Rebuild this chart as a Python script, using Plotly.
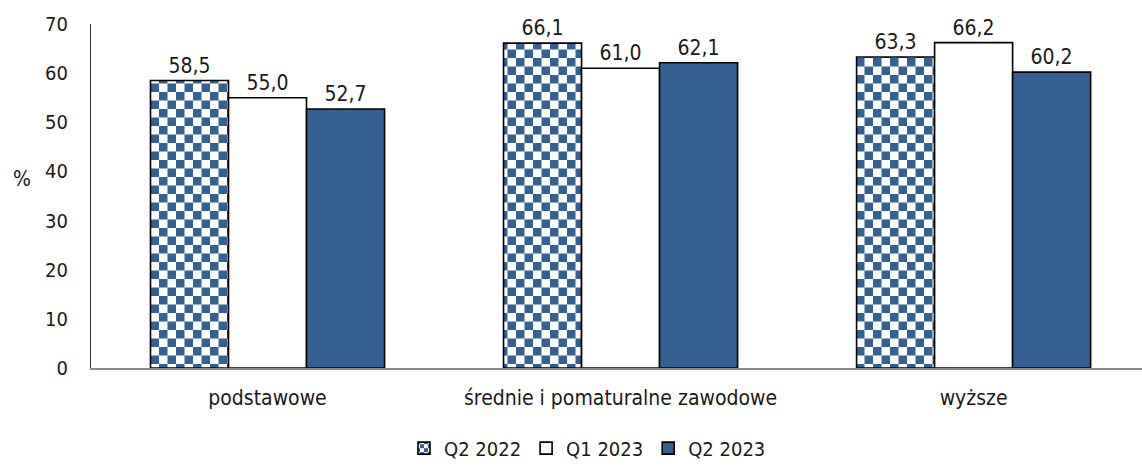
import plotly.graph_objects as go

# Categories (education level) and series values, in percent
categories = ["podstawowe", "średnie i pomaturalne zawodowe", "wyższe"]
series_names = ["Q2 2022", "Q1 2023", "Q2 2023"]
q2_2022 = [58.5, 66.1, 63.3]
q1_2023 = [55.0, 61.0, 66.2]
q2_2023 = [52.7, 62.1, 60.2]
y_ticks = [0, 10, 20, 30, 40, 50, 60, 70]

BLUE = "#376092"
FONT = "DejaVu Sans Condensed, DejaVu Sans, sans-serif"
TXT = "#1a1a1a"

fig = go.Figure()

common = dict(
    texttemplate="%{y:.1f}",
    textposition="outside",
    textfont=dict(family=FONT, size=21, color=TXT),
    cliponaxis=False,
)

fig.add_trace(go.Bar(
    name=series_names[0], x=categories, y=q2_2022,
    marker=dict(
        color="white",
        line=dict(color="black", width=1.6),
        pattern=dict(shape=".", size=17, solidity=0.5,
                     fgcolor=BLUE, bgcolor="white", fillmode="replace"),
    ),
    **common,
))
fig.add_trace(go.Bar(
    name=series_names[1], x=categories, y=q1_2023,
    marker=dict(color="white", line=dict(color="black", width=1.6)),
    **common,
))
fig.add_trace(go.Bar(
    name=series_names[2], x=categories, y=q2_2023,
    marker=dict(color=BLUE, line=dict(color="black", width=1.6)),
    **common,
))

fig.update_layout(
    width=1142, height=470,
    margin=dict(l=91, r=0, t=24, b=102, autoexpand=False),
    paper_bgcolor="white", plot_bgcolor="white",
    barmode="group", bargap=0.337, bargroupgap=0,
    separators=", ",
    font=dict(family=FONT, size=20, color=TXT),
    showlegend=True,
    legend=dict(
        orientation="h", x=0.4724, xanchor="center",
        yref="container", y=0.005, yanchor="bottom",
        font=dict(family=FONT, size=20, color=TXT),
        itemwidth=30, traceorder="normal",
    ),
    xaxis=dict(
        type="category", range=[-0.5, 2.477], automargin=False,
        showline=True, linecolor="#8c8c8c", linewidth=1.5,
        ticks="", showgrid=False, zeroline=False,
        tickfont=dict(family=FONT, size=21, color=TXT),
        ticklabelstandoff=10,
    ),
    yaxis=dict(
        range=[0, 70], tickvals=y_ticks, automargin=False,
        showline=True, linecolor="#333333", linewidth=1,
        ticks="", showgrid=False, zeroline=False,
        tickfont=dict(family=FONT, size=20, color=TXT),
        ticklabelstandoff=18,
    ),
    annotations=[dict(
        text="%", xref="paper", yref="paper", x=-0.0652, y=0.549,
        xanchor="center", yanchor="middle", showarrow=False,
        font=dict(family=FONT, size=21, color=TXT),
    )],
)

# Turn the patterned fill of the first series into a checkerboard tile
checker_js = """
var gd = document.getElementById('{plot_id}');
function checkerTiles() {
  var ns = 'http://www.w3.org/2000/svg';
  gd.querySelectorAll('pattern').forEach(function (p) {
    if (p.getAttribute('data-checker') === '1') return;
    var w = parseFloat(p.getAttribute('width'));
    var c = w / 2;
    while (p.firstChild) p.removeChild(p.firstChild);
    var cells = [[0, 0, w, w, '#ffffff'], [0, 0, c, c, '%BLUE%'], [c, c, c, c, '%BLUE%']];
    cells.forEach(function (r) {
      var el = document.createElementNS(ns, 'rect');
      el.setAttribute('x', r[0]); el.setAttribute('y', r[1]);
      el.setAttribute('width', r[2]); el.setAttribute('height', r[3]);
      el.setAttribute('fill', r[4]);
      p.appendChild(el);
    });
    p.setAttribute('data-checker', '1');
  });
}
checkerTiles();
gd.on('plotly_afterplot', checkerTiles);
""".replace("%BLUE%", BLUE)

fig.write_html("out.html", post_script=checker_js)
